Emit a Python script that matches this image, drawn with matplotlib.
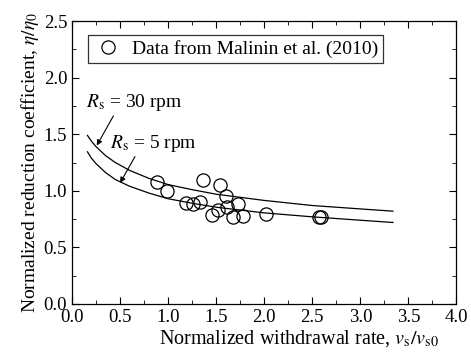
import numpy as np
import matplotlib
matplotlib.use("Agg")
import matplotlib.pyplot as plt
from matplotlib.ticker import MultipleLocator

plt.rcParams['font.family'] = ['Liberation Serif', 'DejaVu Serif']
plt.rcParams['mathtext.fontset'] = 'stix'

# measured data (Malinin et al. 2010)
data_x = [0.88, 0.99, 1.19, 1.26, 1.33, 1.36, 1.54, 1.60, 1.61, 1.73,
          1.52, 1.455, 1.67, 1.78, 2.02, 2.57, 2.59]
data_y = [1.08, 1.00, 0.895, 0.885, 0.90, 1.10, 1.05, 0.95, 0.86, 0.88,
          0.83, 0.79, 0.77, 0.78, 0.795, 0.77, 0.77]

# model curves
curve_x = [0.16, 0.20, 0.25, 0.30, 0.35, 0.45, 0.6, 0.8, 1.0, 1.25, 1.5, 2.0, 2.5, 3.0, 3.34]
rs30_y = [1.49, 1.44, 1.39, 1.35, 1.31, 1.25, 1.18, 1.11, 1.055, 1.01, 0.97, 0.915, 0.87, 0.84, 0.82]
rs5_y = [1.345, 1.29, 1.24, 1.20, 1.16, 1.10, 1.04, 0.98, 0.93, 0.89, 0.855, 0.805, 0.77, 0.74, 0.72]

fig = plt.figure(figsize=(4.71, 3.58), dpi=100)
ax = fig.add_axes([0.153, 0.151, 0.816, 0.790])

ax.plot(curve_x, rs30_y, color='black', lw=0.9)
ax.plot(curve_x, rs5_y, color='black', lw=0.9)
ax.plot(data_x, data_y, 'o', ms=9.5, mfc='none', mec='black', mew=0.9,
        label='Data from Malinin et al. (2010)')

# annotations
ax.annotate(r'$R_\mathrm{s}$ = 30 rpm', xy=(0.257, 1.40), xytext=(0.145, 1.78),
            fontsize=14, va='center', ha='left',
            arrowprops=dict(arrowstyle='-|>', color='black', lw=0.8,
                            shrinkA=0, shrinkB=0, mutation_scale=8,
                            relpos=(0.3, 0.0)))
ax.annotate(r'$R_\mathrm{s}$ = 5 rpm', xy=(0.50, 1.07), xytext=(0.40, 1.42),
            fontsize=14, va='center', ha='left',
            arrowprops=dict(arrowstyle='-|>', color='black', lw=0.8,
                            shrinkA=0, shrinkB=0, mutation_scale=8,
                            relpos=(0.3, 0.0)))

ax.set_xlim(0, 4.0)
ax.set_ylim(0, 2.5)
ax.xaxis.set_major_locator(MultipleLocator(0.5))
ax.xaxis.set_minor_locator(MultipleLocator(0.25))
ax.yaxis.set_major_locator(MultipleLocator(0.5))
ax.yaxis.set_minor_locator(MultipleLocator(0.25))
ax.xaxis.set_major_formatter(plt.FormatStrFormatter('%.1f'))
ax.yaxis.set_major_formatter(plt.FormatStrFormatter('%.1f'))
ax.tick_params(which='both', direction='in', top=True, right=True, labelsize=13.5)
ax.tick_params(which='major', length=5)
ax.tick_params(which='minor', length=3)
for s in ax.spines.values():
    s.set_linewidth(0.9)

ax.set_xlabel(r'Normalized withdrawal rate, $v_\mathrm{s}/v_\mathrm{s0}$', fontsize=14.5, labelpad=1)
ax.xaxis.set_label_coords(0.59, -0.085)
ax.set_ylabel(r'Normalized reduction coefficient, $\eta/\eta_0$', fontsize=14, labelpad=2)

leg = ax.legend(loc='upper left', bbox_to_anchor=(0.042, 0.95), fontsize=14,
                frameon=True, fancybox=False, edgecolor='black', borderpad=0.25,
                handletextpad=0.5, handlelength=1.5, borderaxespad=0)
leg.get_frame().set_linewidth(0.9)

fig.savefig('out.png', dpi=100)
